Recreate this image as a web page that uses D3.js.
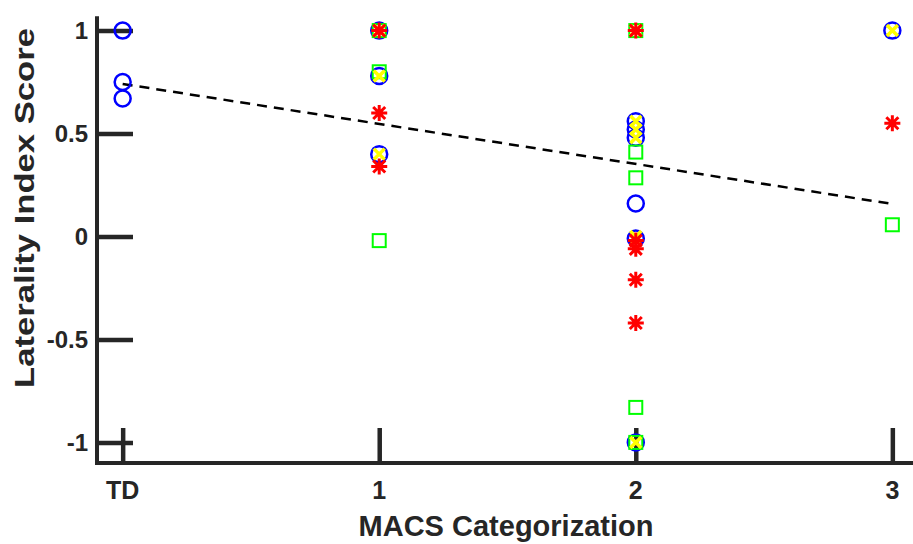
<!DOCTYPE html>
<html>
<head>
<meta charset="utf-8">
<script src="https://cdn.jsdelivr.net/npm/d3@7"></script>
<style>
    body { margin: 0; background: #fff; }
    text { font-family: "Liberation Sans", Arial, sans-serif; font-weight: bold; fill: #262626; }
</style>
</head>
<body>
<div id="chart"></div>
<script>
// categories on x (TD = 0)
var categories = ["TD", "1", "2", "3"];
var catPos = [0, 1, 2, 3];
var yTicks = [-1, -0.5, 0, 0.5, 1];
var yTickLabels = ["-1", "-0.5", "0", "0.5", "1"];

// blue circles
var circleX = [0, 0, 0, 1, 1, 1, 2, 2, 2, 2, 2, 2, 3];
var circleY = [1, 0.75, 0.67, 1, 0.78, 0.40, 0.56, 0.52, 0.48, 0.16, -0.01, -1, 1];
// green squares
var squareX = [1, 1, 1, 2, 2, 2, 2, 2, 3];
var squareY = [1, 0.80, -0.02, 1, 0.41, 0.285, -0.83, -1, 0.057];
// yellow crosses
var crossX = [1, 1, 1, 2, 2, 2, 2, 2, 2, 3];
var crossY = [1, 0.78, 0.40, 1, 0.56, 0.52, 0.48, 0, -1, 1];
// red asterisks
var starX = [1, 1, 1, 2, 2, 2, 2, 2, 3];
var starY = [1, 0.60, 0.34, 1, -0.02, -0.06, -0.21, -0.42, 0.55];
// dashed trend line
var trendX = [0, 3];
var trendY = [0.741, 0.158];

var W = 913, H = 544, ink = "#262626";

var svg = d3.select("#chart").append("svg")
    .attr("width", W)
    .attr("height", H);

var x = d3.scaleLinear().domain([-0.1, 3.1]).range([97, 918]);
var y = d3.scaleLinear().domain([-1.1, 1.1]).range([463, 10]);

function pts(xs, ys) {
    return xs.map(function(d, i) { return [d, ys[i]]; });
}

// axes (MATLAB style: thick, ticks pointing inward)
var yAxis = d3.axisRight(y)
    .tickValues(yTicks)
    .tickFormat("")
    .tickSize(36)
    .tickSizeOuter(0);
var gy = svg.append("g")
    .attr("transform", "translate(" + x(-0.1) + ",0)")
    .call(yAxis);
gy.select(".domain").remove();
gy.selectAll(".tick line").attr("stroke", ink).attr("stroke-width", 4.5);

var xAxis = d3.axisTop(x)
    .tickValues(catPos)
    .tickFormat("")
    .tickSize(35)
    .tickSizeOuter(0);
var gx = svg.append("g")
    .attr("transform", "translate(0," + y(-1.1) + ")")
    .call(xAxis);
gx.select(".domain").remove();
gx.selectAll(".tick line").attr("stroke", ink).attr("stroke-width", 4.5);

svg.append("line")
    .attr("x1", x(-0.1)).attr("x2", x(-0.1))
    .attr("y1", y(1.07)).attr("y2", y(-1.1) + 2)
    .attr("stroke", ink).attr("stroke-width", 4);
svg.append("line")
    .attr("x1", x(-0.1) - 2).attr("x2", W)
    .attr("y1", y(-1.1)).attr("y2", y(-1.1))
    .attr("stroke", ink).attr("stroke-width", 4);

// tick labels
svg.append("g").selectAll("text")
    .data(yTicks)
    .enter().append("text")
    .attr("x", 88)
    .attr("y", function(d) { return y(d); })
    .attr("dy", "0.36em")
    .attr("text-anchor", "end")
    .attr("font-size", 24)
    .text(function(d, i) { return yTickLabels[i]; });

svg.append("g").selectAll("text")
    .data(catPos)
    .enter().append("text")
    .attr("x", function(d) { return x(d); })
    .attr("y", 499)
    .attr("text-anchor", "middle")
    .attr("font-size", 25)
    .text(function(d, i) { return categories[i]; });

// axis titles
svg.append("text")
    .attr("x", 506)
    .attr("y", 536)
    .attr("text-anchor", "middle")
    .attr("font-size", 29)
    .text("MACS Categorization");

svg.append("text")
    .attr("transform", "translate(34,208) rotate(-90)")
    .attr("text-anchor", "middle")
    .attr("font-size", 27)
    .attr("textLength", 360)
    .attr("lengthAdjust", "spacingAndGlyphs")
    .text("Laterality Index Score");

// trend line
svg.append("path")
    .datum(pts(trendX, trendY))
    .attr("d", d3.line()
        .x(function(d) { return x(d[0]); })
        .y(function(d) { return y(d[1]); }))
    .attr("fill", "none")
    .attr("stroke", "#000")
    .attr("stroke-width", 2.5)
    .attr("stroke-dasharray", "10,7");

// markers
svg.append("g").selectAll("circle")
    .data(pts(circleX, circleY))
    .enter().append("circle")
    .attr("cx", function(d) { return x(d[0]); })
    .attr("cy", function(d) { return y(d[1]); })
    .attr("r", 8)
    .attr("fill", "none")
    .attr("stroke", "#0000ff")
    .attr("stroke-width", 2.5);

svg.append("g").selectAll("rect")
    .data(pts(squareX, squareY))
    .enter().append("rect")
    .attr("x", function(d) { return x(d[0]) - 6.5; })
    .attr("y", function(d) { return y(d[1]) - 6.5; })
    .attr("width", 13)
    .attr("height", 13)
    .attr("fill", "none")
    .attr("stroke", "#00ff00")
    .attr("stroke-width", 2);

var s = 5.5;
svg.append("g").selectAll("path")
    .data(pts(crossX, crossY))
    .enter().append("path")
    .attr("d", function(d) {
        var cx = x(d[0]), cy = y(d[1]);
        return "M" + (cx - s) + "," + (cy - s) + "L" + (cx + s) + "," + (cy + s) +
            "M" + (cx - s) + "," + (cy + s) + "L" + (cx + s) + "," + (cy - s);
    })
    .attr("stroke", "#ffff00")
    .attr("stroke-width", 3.5);

var a = 8, b = 6;
svg.append("g").selectAll("path")
    .data(pts(starX, starY))
    .enter().append("path")
    .attr("d", function(d) {
        var cx = x(d[0]), cy = y(d[1]);
        return "M" + (cx - a) + "," + cy + "h" + (2 * a) +
            "M" + cx + "," + (cy - a) + "v" + (2 * a) +
            "M" + (cx - b) + "," + (cy - b) + "l" + (2 * b) + "," + (2 * b) +
            "M" + (cx - b) + "," + (cy + b) + "l" + (2 * b) + "," + (-2 * b);
    })
    .attr("stroke", "#ff0000")
    .attr("stroke-width", 3);
</script>
</body>
</html>
